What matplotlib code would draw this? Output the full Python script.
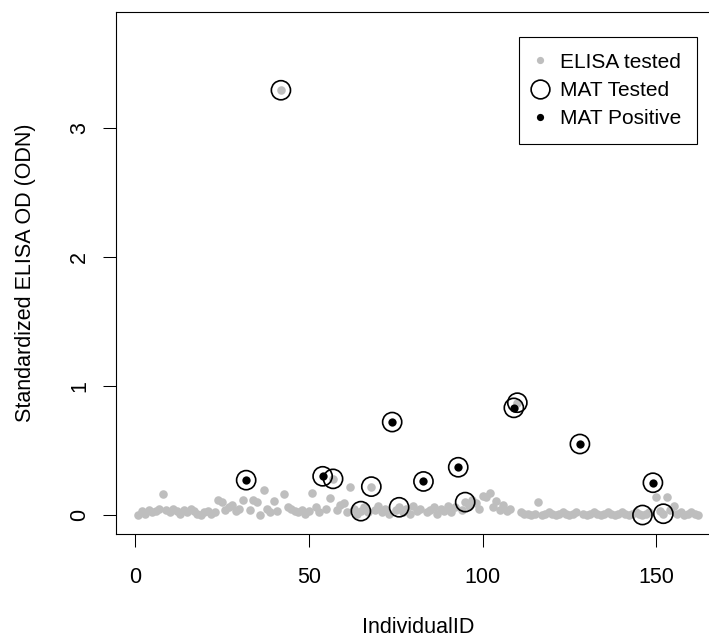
import matplotlib
matplotlib.use("Agg")
from matplotlib import pyplot as plt
from matplotlib.lines import Line2D

plt.rcParams['font.family'] = ['Liberation Sans', 'DejaVu Sans']

# standardized ELISA OD for individuals 1..162
elisa_odn = [
    0.00, 0.03, 0.01, 0.04, 0.02, 0.03, 0.05, 0.16, 0.04, 0.02,
    0.05, 0.03, 0.01, 0.04, 0.02, 0.05, 0.03, 0.01, 0.00, 0.02,
    0.03, 0.01, 0.02, 0.12, 0.10, 0.04, 0.06, 0.08, 0.03, 0.05,
    0.12, 0.27, 0.04, 0.12, 0.10, 0.00, 0.19, 0.05, 0.02, 0.11,
    0.03, 3.29, 0.16, 0.06, 0.05, 0.03, 0.02, 0.04, 0.01, 0.03,
    0.17, 0.06, 0.02, 0.30, 0.05, 0.13, 0.28, 0.04, 0.08, 0.09,
    0.02, 0.22, 0.05, 0.01, 0.03, 0.06, 0.02, 0.22, 0.04, 0.07,
    0.02, 0.05, 0.01, 0.72, 0.04, 0.06, 0.02, 0.05, 0.01, 0.07,
    0.03, 0.05, 0.26, 0.02, 0.04, 0.06, 0.01, 0.05, 0.03, 0.07,
    0.02, 0.06, 0.37, 0.04, 0.10, 0.07, 0.12, 0.09, 0.05, 0.15,
    0.14, 0.17, 0.06, 0.11, 0.04, 0.08, 0.03, 0.05, 0.83, 0.87,
    0.02, 0.01, 0.01, 0.00, 0.01, 0.10, 0.00, 0.01, 0.02, 0.01,
    0.00, 0.01, 0.02, 0.01, 0.00, 0.01, 0.02, 0.55, 0.01, 0.00,
    0.01, 0.02, 0.01, 0.00, 0.01, 0.02, 0.01, 0.00, 0.01, 0.02,
    0.01, 0.00, 0.01, 0.02, 0.01, 0.00, 0.01, 0.02, 0.25, 0.14,
    0.03, 0.01, 0.14, 0.04, 0.07, 0.01, 0.02, 0.00, 0.01, 0.02,
    0.01, 0.00,
]
ids = list(range(1, len(elisa_odn) + 1))

mat_tested = [32, 42, 54, 57, 65, 68, 74, 76, 83, 93, 95, 109, 110, 128, 146, 149, 152]
mat_positive = [32, 54, 74, 83, 93, 109, 128, 149]

fig = plt.figure(figsize=(7.09, 6.39), dpi=100)
# axes box runs a little past the right edge of the canvas
ax = fig.add_axes([116 / 709, 105 / 639, 604.5 / 709, 522 / 639])

ax.scatter(ids, elisa_odn, s=38, color="#BEBEBE", linewidths=0, zorder=2)
ax.scatter(mat_tested, [elisa_odn[i - 1] for i in mat_tested], s=190,
           facecolors="none", edgecolors="black", linewidths=1.2, zorder=3)
ax.scatter(mat_positive, [elisa_odn[i - 1] for i in mat_positive], s=34,
           color="black", linewidths=0, zorder=4)

ax.set_xlim(-5.44, 168.44)
ax.set_ylim(-0.147, 3.896)
ax.set_xticks([0, 50, 100, 150])
ax.set_yticks([0, 1, 2, 3])
ax.tick_params(axis="both", direction="out", length=9.5, width=0.75,
               labelsize=15.5, colors="black")
ax.tick_params(axis="x", pad=14)
ax.tick_params(axis="y", pad=9, labelrotation=90)
for lab in ax.get_yticklabels():
    lab.set_va("center")
for sp in ax.spines.values():
    sp.set_linewidth(0.8)

ax.set_xlabel("IndividualID", fontsize=15.5)
ax.xaxis.set_label_coords(0.5, -0.18)
ax.xaxis.label.set_va("center")
ax.set_ylabel("Standardized ELISA OD (ODN)", fontsize=15.5)
ax.yaxis.set_label_coords(-0.15, 0.5)
ax.yaxis.label.set_va("center")

handles = [
    Line2D([], [], ls="none", marker="o", color="#BEBEBE", markersize=5.2, markeredgewidth=0),
    Line2D([], [], ls="none", marker="o", markerfacecolor="none", markeredgecolor="black",
           markersize=13.5, markeredgewidth=1.2),
    Line2D([], [], ls="none", marker="o", color="black", markersize=5.2, markeredgewidth=0),
]
leg = ax.legend(handles, ["ELISA tested", "MAT Tested", "MAT Positive"],
                loc="upper right", bbox_to_anchor=(0.961, 0.952), fontsize=15,
                frameon=True, fancybox=False, edgecolor="black", framealpha=1,
                handlelength=0.52, handletextpad=0.7, labelspacing=0.45,
                borderpad=0.75, borderaxespad=0)
leg.get_frame().set_linewidth(0.8)

fig.savefig("out.png", dpi=100)
